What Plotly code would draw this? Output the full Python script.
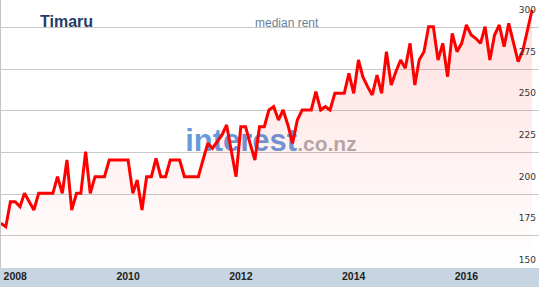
import plotly.graph_objects as go
import pandas as pd

# ---- data ----
start_month = "2007-10-01"
median_rent = [
    172, 170, 185, 185, 182, 190, 185, 180, 190, 190,
    190, 190, 200, 190, 210, 180, 190, 190, 215, 190,
    200, 200, 200, 210, 210, 210, 210, 210, 190, 198,
    180, 200, 200, 211, 200, 200, 210, 210, 210, 200,
    200, 200, 200, 210, 220, 217, 221, 225, 231, 216,
    200, 230, 230, 220, 210, 230, 230, 240, 242, 234,
    240, 231, 220, 234, 240, 240, 240, 251, 240, 242,
    240, 250, 250, 250, 262, 250, 270, 260, 254, 249,
    261, 250, 275, 255, 263, 270, 265, 280, 255, 270,
    275, 290, 290, 270, 280, 260, 286, 275, 280, 291,
    285, 283, 280, 290, 270, 285, 291, 278, 292, 280,
    269, 276, 288, 300,
]
months = pd.date_range(start_month, periods=len(median_rent), freq="MS")

y_tick_vals = [150, 175, 200, 225, 250, 275, 300]
grid_vals = [164.6, 189.6, 214.6, 239.6, 264.6, 289.6]
x_tick_vals = ["2008-01-01", "2010-01-01", "2012-01-01", "2014-01-01", "2016-01-01"]
x_tick_text = ["2008", "2010", "2012", "2014", "2016"]

title_text = "Timaru"
subtitle_text = "median rent"
watermark_html = ("<span style='color:rgba(45,115,205,0.72)'>interest</span>"
                  "<span style='color:rgba(140,140,140,0.7);font-size:21px'>.co.nz</span>")
watermark_x = "2012-07-14"
watermark_y = 220

y_range = [145.2, 306]
x_range = [start_month, "2017-04-15"]

fig = go.Figure()

# helper trace so the secondary (grid) axis is drawn
fig.add_trace(go.Scatter(x=[], y=[], yaxis="y2", mode="lines",
                         hoverinfo="skip", showlegend=False))

# watermark (drawn under the line)
fig.add_trace(go.Scatter(
    x=[watermark_x], y=[watermark_y], mode="text",
    text=[watermark_html], textposition="middle center",
    textfont=dict(family="Liberation Sans, Arial", size=31, weight="bold"),
    hoverinfo="skip", showlegend=False,
))

# rent line with gradient area
fig.add_trace(go.Scatter(
    x=months, y=median_rent, mode="lines",
    line=dict(color="#ff0000", width=3),
    fill="tozeroy",
    fillgradient=dict(
        type="vertical",
        colorscale=[[0, "rgba(255,0,0,0)"], [1, "rgba(255,0,0,0.13)"]],
        start=y_range[0], stop=y_range[1],
    ),
    hoverinfo="skip", showlegend=False,
))

fig.update_layout(
    width=539, height=287,
    margin=dict(l=1, r=0, t=0, b=19),
    paper_bgcolor="#c7d5e3",
    plot_bgcolor="white",
    showlegend=False,
    xaxis=dict(
        type="date", range=x_range,
        tickmode="array", tickvals=x_tick_vals, ticktext=x_tick_text,
        showgrid=False, zeroline=False, showline=False, ticks="",
        tickfont=dict(family="Liberation Sans, Arial", size=10.5, color="#222222", weight="bold"),
        fixedrange=True,
    ),
    yaxis=dict(
        range=y_range, side="right", ticklabelposition="inside",
        tickmode="array", tickvals=y_tick_vals,
        showgrid=False, zeroline=False, showline=False, ticks="",
        tickfont=dict(family="DejaVu Sans", size=9, color="#333333"),
        fixedrange=True,
    ),
    yaxis2=dict(
        overlaying="y", anchor="x", side="left", range=y_range,
        tickmode="array", tickvals=grid_vals, showticklabels=False,
        showgrid=True, gridcolor="#c8c8c8", gridwidth=1,
        showline=True, linecolor="#c4c4c4", linewidth=1,
        zeroline=False, ticks="", fixedrange=True,
    ),
    annotations=[
        dict(text="<b>" + title_text + "</b>", xref="paper", yref="paper",
             x=0.0688, y=0.9216, xanchor="left", yanchor="middle", showarrow=False,
             font=dict(family="Liberation Sans, Arial", size=16, color="#1f3b68")),
        dict(text=subtitle_text, xref="paper", yref="paper",
             x=0.4684, y=0.914, xanchor="left", yanchor="middle", showarrow=False,
             font=dict(family="Liberation Sans, Arial", size=12, color="#6b7f9c")),
    ],
)

fig.write_html("out.html")
